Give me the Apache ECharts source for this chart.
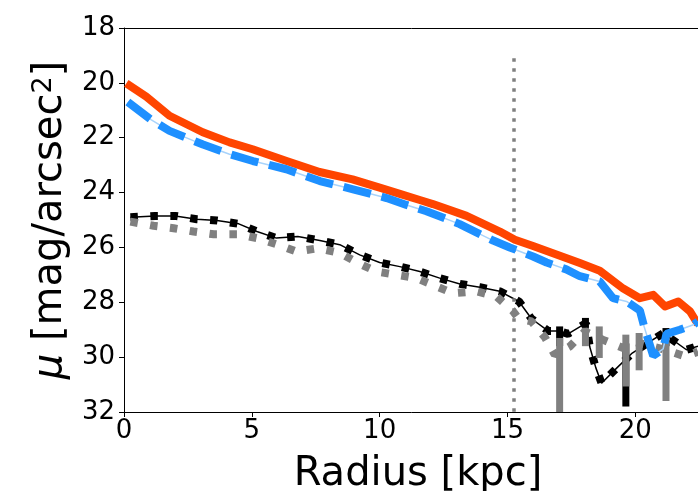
<!DOCTYPE html>
<html>
<head>
<meta charset="utf-8">
<script src="https://cdn.jsdelivr.net/npm/echarts@6/dist/echarts.min.js"></script>
<style>
  html, body { margin: 0; padding: 0; background: #fff; }
  #chart { width: 698px; height: 491px; }
</style>
</head>
<body>
<div id="chart"></div>
<script>
// radius [kpc] and surface brightness [mag/arcsec^2]
const redR  = [0.09, 0.87, 1.78, 3.08, 4.13, 5.03, 6.36, 7.65, 8.94, 10.0, 10.79, 11.57, 12.08, 13.4, 14.7, 15.29, 16.0, 17.05, 17.83, 18.61, 19.53, 20.18, 20.7, 21.16, 21.68, 22.14, 22.45];
const redMu = [20.02, 20.5, 21.2, 21.8, 22.17, 22.42, 22.85, 23.25, 23.52, 23.82, 24.05, 24.27, 24.42, 24.85, 25.42, 25.72, 25.95, 26.3, 26.57, 26.85, 27.5, 27.85, 27.73, 28.15, 27.97, 28.33, 28.8];

const blueR  = [0.15, 1.07, 1.78, 3.09, 4.13, 5.04, 6.35, 7.66, 8.96, 10.27, 11.05, 11.83, 13.13, 14.44, 15.09, 16.0, 16.53, 17.3, 17.83, 18.61, 19.13, 19.66, 20.18, 20.35, 20.7, 21.09, 21.22, 21.74, 22.27, 22.45];
const blueMu = [20.7, 21.35, 21.75, 22.25, 22.6, 22.85, 23.15, 23.58, 23.88, 24.2, 24.45, 24.68, 25.15, 25.75, 26.0, 26.33, 26.55, 26.8, 27.05, 27.24, 27.85, 27.97, 28.3, 28.9, 29.95, 29.7, 29.15, 29.0, 28.82, 28.7];

const blackR  = [0.25, 1.22, 2.0, 2.85, 3.64, 4.49, 5.2, 5.96, 6.8, 7.66, 8.44, 9.22, 10.0, 10.79, 11.57, 12.35, 13.14, 13.92, 14.7, 15.45, 15.94, 16.6, 17.02, 17.37, 18.07, 18.22, 18.46, 18.68, 19.27, 19.88, 20.57, 21.22, 21.35, 22.0, 22.45];
const blackMu = [24.9, 24.85, 24.85, 24.97, 25.02, 25.14, 25.42, 25.66, 25.6, 25.75, 25.9, 26.27, 26.55, 26.7, 26.88, 27.12, 27.33, 27.45, 27.6, 27.97, 28.6, 29.05, 29.05, 29.15, 28.76, 29.63, 30.4, 30.95, 30.4, 29.85, 29.43, 29.06, 29.3, 29.73, 29.6];

const grayR  = [0.25, 1.16, 1.94, 2.72, 3.51, 4.49, 5.2, 6.02, 6.74, 7.59, 8.44, 9.16, 9.87, 10.66, 11.44, 12.22, 12.87, 13.79, 14.57, 15.22, 15.42, 15.94, 16.46, 16.85, 17.44, 18.03, 18.74, 19.53, 19.92, 21.16, 21.94, 22.45];
const grayMu = [25.06, 25.21, 25.3, 25.42, 25.52, 25.52, 25.66, 25.9, 26.15, 26.03, 26.2, 26.57, 26.88, 27.0, 27.12, 27.42, 27.67, 27.6, 27.79, 28.33, 28.58, 28.7, 29.27, 29.91, 29.61, 29.06, 29.37, 29.67, 29.43, 29.73, 29.97, 29.8];

// error bars: radius, upper (bright) end, lower (faint) end
const blackErrR  = [17.04, 18.05, 19.63, 21.2];
const blackErrLo = [28.88, 28.57, 29.5, 28.94];
const blackErrHi = [29.6, 29.0, 31.8, 29.6];

const grayErrR  = [17.04, 18.05, 18.59, 19.63, 20.15, 21.2];
const grayErrLo = [29.3, 28.93, 28.88, 29.18, 29.12, 29.24];
const grayErrHi = [32.5, 29.6, 30.03, 31.07, 30.48, 31.6];

// vertical marker radius and its extent
const markR = 15.25;
const markTop = 19.1;
const markBottom = 32;

const xTicks = [0, 5, 10, 15, 20];

const pairs = (xs, ys) => xs.map((x, i) => [x, ys[i]]);
const bars = (xs, lo, hi) => xs.map((x, i) => [x, lo[i], hi[i]]);

function barItem(color) {
  return function (params, api) {
    const p1 = api.coord([api.value(0), api.value(1)]);
    const p2 = api.coord([api.value(0), api.value(2)]);
    const rect = echarts.graphic.clipRectByRect(
      { x: p1[0] - 3.5, y: p1[1], width: 7, height: p2[1] - p1[1] },
      params.coordSys
    );
    return rect && { type: 'rect', shape: rect, style: { fill: color } };
  };
}

const chart = echarts.init(document.getElementById('chart'));
const font = 'DejaVu Sans';

chart.setOption({
  animation: false,
  backgroundColor: '#fff',
  grid: { left: 124, top: 28, width: 588, height: 384, containLabel: false, outerBoundsMode: 'none' },
  xAxis: [
    {
      type: 'value', min: 0, max: 23, interval: 5,
      name: 'Radius [kpc]', nameLocation: 'middle', nameGap: 43,
      nameTextStyle: { fontFamily: font, fontSize: 40, color: '#000' },
      axisLine: { lineStyle: { color: '#000', width: 1 } },
      axisTick: { length: 5, lineStyle: { color: '#000' } },
      axisLabel: { fontFamily: font, fontSize: 26, color: '#000', margin: 6,
        formatter: v => (xTicks.includes(v) ? String(v) : '') },
      splitLine: { show: false }
    },
    {
      type: 'value', min: 0, max: 23, position: 'top',
      axisLine: { show: true, onZero: false, lineStyle: { color: '#000', width: 1 } },
      axisTick: { show: false }, axisLabel: { show: false }, splitLine: { show: false }
    }
  ],
  yAxis: {
    type: 'value', min: 18, max: 32, interval: 2, inverse: true,
    name: '{i|μ} [mag/arcsec{sup|2}]', nameLocation: 'middle', nameGap: 52, nameRotate: 90,
    nameTextStyle: {
      fontFamily: font, fontSize: 40, color: '#000',
      rich: {
        i: { fontFamily: font, fontSize: 40, fontStyle: 'italic', color: '#000' },
        sup: { fontFamily: font, fontSize: 27, color: '#000', verticalAlign: 'top', padding: [0, 0, 14, 0] }
      }
    },
    axisLine: { show: true, lineStyle: { color: '#000', width: 1 } },
    axisTick: { show: true, length: 5, lineStyle: { color: '#000' } },
    axisLabel: { fontFamily: font, fontSize: 26, color: '#000', margin: 9 },
    splitLine: { show: false }
  },
  series: [
    {
      type: 'line', data: pairs(blackR, blackMu), showSymbol: false, z: 2,
      lineStyle: { color: '#000', width: 1.5 }
    },
    {
      type: 'custom', data: bars(blackErrR, blackErrLo, blackErrHi), z: 3,
      renderItem: barItem('#000')
    },
    {
      type: 'line', data: pairs(blackR, blackMu), showSymbol: false, z: 3,
      lineStyle: { color: '#000', width: 8, type: [7.5, 12.5], cap: 'butt' }
    },
    {
      type: 'custom', data: bars(grayErrR, grayErrLo, grayErrHi), z: 4,
      renderItem: barItem('#808080')
    },
    {
      type: 'line', data: pairs(grayR, grayMu), showSymbol: false, z: 4,
      lineStyle: { color: '#808080', width: 8, type: [7.5, 12.5], cap: 'butt' },
      markLine: {
        silent: true, symbol: 'none', label: { show: false },
        lineStyle: { color: '#808080', width: 3.5, type: [3.5, 6.5], cap: 'butt' },
        data: [[{ coord: [markR, markTop] }, { coord: [markR, markBottom] }]]
      }
    },
    {
      type: 'line', data: pairs(redR, redMu), showSymbol: false, z: 5,
      lineStyle: { color: '#ff4500', width: 8, join: 'round' }
    },
    {
      type: 'line', data: pairs(blueR, blueMu), showSymbol: false, z: 6,
      lineStyle: { color: '#a8d3fb', width: 1.5 }
    },
    {
      type: 'line', data: pairs(blueR, blueMu), showSymbol: false, z: 6,
      lineStyle: { color: '#1e90ff', width: 8, type: [28, 11], cap: 'butt' }
    }
  ]
});
</script>
</body>
</html>
